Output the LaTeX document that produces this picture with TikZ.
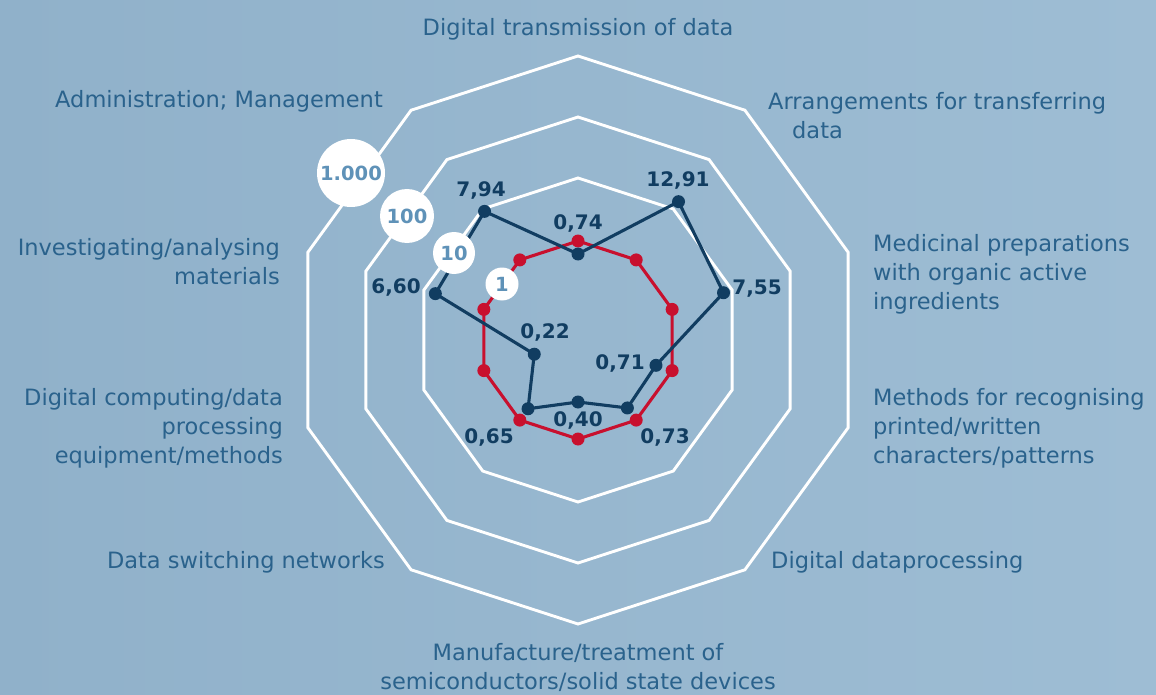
\documentclass[tikz,border=0pt]{standalone}
\usepackage{fontspec}
\setmainfont{DejaVu Sans}
\usetikzlibrary{calc}
\definecolor{bgL}{HTML}{90B1CA}
\definecolor{bgR}{HTML}{9EBDD4}
\definecolor{labcol}{HTML}{2A628C}
\definecolor{datcol}{HTML}{113D61}
\definecolor{redcol}{HTML}{C8102E}
\definecolor{circtxt}{HTML}{5F92B8}
\begin{document}
\begin{tikzpicture}[x=1pt,y=-1pt,
  ring/.style={draw=white, line width=2.9pt, line join=miter},
  redline/.style={draw=redcol, line width=3.1pt, line join=round},
  blueline/.style={draw=datcol, line width=3.1pt, line join=round},
  reddot/.style={circle, fill=redcol, inner sep=0pt, minimum size=13pt},
  bluedot/.style={circle, fill=datcol, inner sep=0pt, minimum size=13pt},
  cat/.style={font=\fontsize{22.5}{29}\selectfont, text=labcol, inner sep=0pt},
  val/.style={font=\bfseries\fontsize{20}{22}\selectfont, text=datcol, inner sep=0pt},
  scalelab/.style={circle, fill=white, inner sep=0pt, text=circtxt, font=\bfseries\fontsize{19.5}{21}\selectfont},
]
\fill[left color=bgL, right color=bgR] (0,0) rectangle (1156,695);
\useasboundingbox (0,0) rectangle (1156,695);
\coordinate (C) at (578,340);
% rings
\foreach \r in {162pt,223pt,284pt} {
  \draw[ring] ($(C)+(90:\r)$) \foreach \a in {54,18,-18,-54,-90,-126,-162,162,126} { -- ($(C)+(\a:\r)$) } -- cycle;
}
% red reference polygon (value 1)
\foreach \k in {0,...,9} {
  \pgfmathsetmacro\ang{90-36*\k}
  \coordinate (r\k) at ($(C)+(\ang:99pt)$);
}
\draw[redline] (r0) -- (r1) -- (r2) -- (r3) -- (r4) -- (r5) -- (r6) -- (r7) -- (r8) -- (r9) -- cycle;
\foreach \k in {0,...,9} \node[reddot] (rd\k) at (r\k) {};
% data polygon
\foreach \k/\rad in {0/86,1/171,2/153,3/82,4/84,5/62,6/85,7/46,8/150,9/159} {
  \pgfmathsetmacro\ang{90-36*\k}
  \coordinate (d\k) at ($(C)+(\ang:\rad pt)$);
}
\draw[blueline] (d0) -- (d1) -- (d2) -- (d3) -- (d4) -- (d5) -- (d6) -- (d7) -- (d8) -- (d9) -- cycle;
\foreach \k in {0,...,9} \node[bluedot] (dd\k) at (d\k) {};
% value labels
\node[val] (l0) at (578,223) {0,74};
\node[val] (l1) at (678,180) {12,91};
\node[val] (l2) at (757,289) {7,55};
\node[val] (l3) at (620,363) {0,71};
\node[val] (l4) at (665,437) {0,73};
\node[val] (l5) at (578,420) {0,40};
\node[val] (l6) at (489,437) {0,65};
\node[val] (l7) at (545,332) {0,22};
\node[val] (l8) at (396,287) {6,60};
\node[val] (l9) at (481,191) {7,94};
% scale circles
\node[scalelab, minimum size=68pt] (s1000) at (351,173) {1.000};
\node[scalelab, minimum size=54pt] (s100) at (407,216) {100};
\node[scalelab, minimum size=42pt] (s10) at (454,253) {10};
\node[scalelab, minimum size=33pt] (s1) at (502,284) {1};
% category labels
\node[cat] (c0) at (578,29) {Digital transmission of data};
\node[cat, anchor=west, align=left] (c1) at (768,116) {Arrangements for transferring\\\hspace*{24pt}data};
\node[cat, anchor=west, align=left] (c2) at (873,274) {Medicinal preparations\\with organic active\\ingredients};
\node[cat, anchor=west, align=left] (c3) at (873,428) {Methods for recognising\\printed/written\\characters/patterns};
\node[cat, anchor=west] (c4) at (771,562) {Digital dataprocessing};
\node[cat, align=center] (c5) at (578,667) {Manufacture/treatment of\\semiconductors/solid state devices};
\node[cat, anchor=east] (c6) at (385,562) {Data switching networks};
\node[cat, anchor=east, align=right] (c7) at (283,428) {Digital computing/data\\processing\\equipment/methods};
\node[cat, anchor=east, align=right] (c8) at (280,262) {Investigating/analysing\\materials};
\node[cat, anchor=east] (c9) at (383,101) {Administration; Management};
\end{tikzpicture}
\end{document}
